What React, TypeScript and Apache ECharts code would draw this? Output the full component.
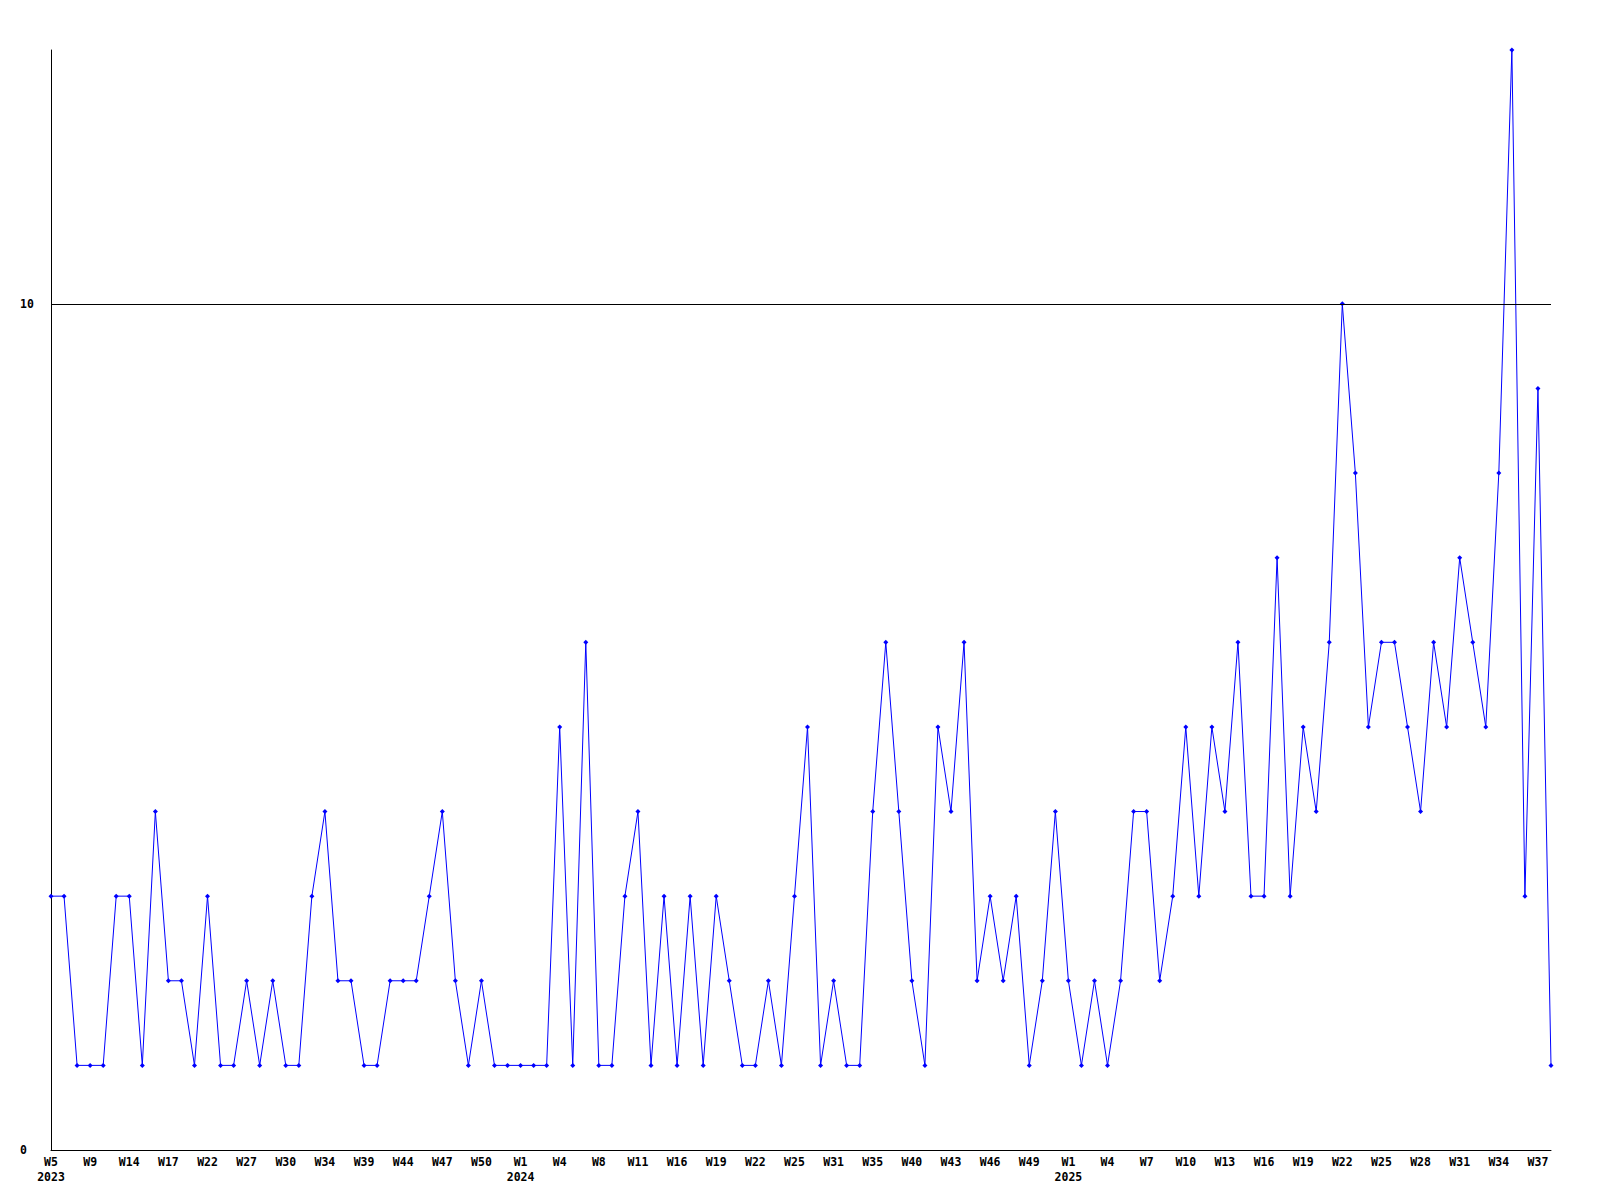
import React, { useEffect, useRef } from "react";
import * as echarts from "echarts";

// Week numbers per year (category axis)
const weeks2023 = [5, 6, 8, 9, 11, 13, 14, 15, 16, 17, 19, 20, 22, 24, 25, 27, 28, 29, 30, 32, 33, 34, 36, 37, 39, 41, 43, 44, 45, 46, 47, 48, 49, 50, 51, 52];
const weeks2024 = [1, 2, 3, 4, 5, 7, 8, 9, 10, 11, 13, 14, 16, 17, 18, 19, 20, 21, 22, 23, 24, 25, 27, 29, 31, 32, 34, 35, 37, 38, 40, 41, 42, 43, 44, 45, 46, 47, 48, 49, 50, 52];
const weeks2025 = [1, 2, 3, 4, 5, 6, 7, 8, 9, 10, 11, 12, 13, 14, 15, 16, 17, 18, 19, 20, 21, 22, 23, 24, 25, 26, 27, 28, 29, 30, 31, 32, 33, 34, 35, 36, 37, 38];

// Series values
const values = [
  3, 3, 1, 1, 1, 3, 3, 1, 4, 2,
  2, 1, 3, 1, 1, 2, 1, 2, 1, 1,
  3, 4, 2, 2, 1, 1, 2, 2, 2, 3,
  4, 2, 1, 2, 1, 1, 1, 1, 1, 5,
  1, 6, 1, 1, 3, 4, 1, 3, 1, 3,
  1, 3, 2, 1, 1, 2, 1, 3, 5, 1,
  2, 1, 1, 4, 6, 4, 2, 1, 5, 4,
  6, 2, 3, 2, 3, 1, 2, 4, 2, 1,
  2, 1, 2, 4, 4, 2, 3, 5, 3, 5,
  4, 6, 3, 3, 7, 3, 5, 4, 6, 10,
  8, 5, 6, 6, 5, 4, 6, 5, 7, 6,
  5, 8, 13, 3, 9, 1,
];

// Y tick labels shown
const yTickLabels = [0, 10];
const yMax = 13;
const refLineValue = 10;

const FONT = "'DejaVu Sans Mono', 'Liberation Mono', monospace";

export default function App() {
  const ref = useRef<HTMLDivElement>(null);

  useEffect(() => {
    document.body.style.margin = "0";
    if (!ref.current) return;
    const chart = echarts.init(ref.current, null, { renderer: "svg" });

    const categories: string[] = [
      ...weeks2023.map((w) => `2023-W${w}`),
      ...weeks2024.map((w) => `2024-W${w}`),
      ...weeks2025.map((w) => `2025-W${w}`),
    ];

    chart.setOption({
      animation: false,
      backgroundColor: "#ffffff",
      grid: { left: 51, right: 49, top: 50, bottom: 50, containLabel: false },
      xAxis: {
        type: "category",
        data: categories,
        boundaryGap: false,
        axisLine: { show: true, lineStyle: { color: "#000000", width: 1 } },
        axisTick: { show: false },
        splitLine: { show: false },
        axisLabel: {
          interval: 2,
          margin: 4,
          color: "#000000",
          fontFamily: FONT,
          fontWeight: "bold",
          fontSize: 11.5,
          lineHeight: 15,
          formatter: (value: string, index: number) => {
            const [year, week] = value.split("-");
            const prev = index > 0 ? categories[index - 1].split("-")[0] : "";
            return prev !== year ? `${week}\n${year}` : week;
          },
        },
      },
      yAxis: {
        type: "value",
        min: 0,
        max: yMax,
        interval: 10,
        axisLine: { show: true, lineStyle: { color: "#000000", width: 1 } },
        axisTick: { show: false },
        splitLine: { show: false },
        axisLabel: {
          align: "left",
          margin: 31,
          color: "#000000",
          fontFamily: FONT,
          fontWeight: "bold",
          fontSize: 11.5,
          showMaxLabel: false,
          formatter: (v: number) => (yTickLabels.includes(v) ? String(v) : ""),
        },
      },
      series: [
        {
          type: "line",
          data: values,
          color: "#0000ff",
          lineStyle: { color: "#0000ff", width: 1 },
          itemStyle: { color: "#0000ff" },
          symbol: "diamond",
          symbolSize: 5,
          showAllSymbol: true,
          clip: false,
          markLine: {
            silent: true,
            symbol: "none",
            label: { show: false },
            lineStyle: { color: "#000000", width: 1, type: "solid" },
            data: [{ yAxis: refLineValue }],
          },
        },
      ],
    });

    return () => {
      chart.dispose();
    };
  }, []);

  return <div ref={ref} style={{ width: 1600, height: 1200 }} />;
}
